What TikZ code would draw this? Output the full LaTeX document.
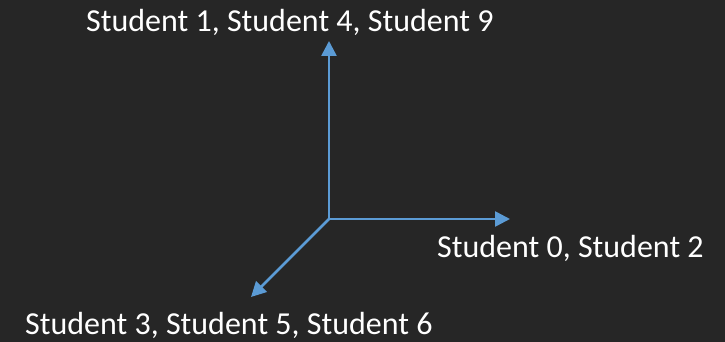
\documentclass[tikz,border=0pt]{standalone}
\usepackage{fontspec}
\setmainfont{Carlito}
\usetikzlibrary{arrows.meta}
\definecolor{bg}{HTML}{262626}
\definecolor{axisblue}{HTML}{5B9BD5}
\tikzset{
  axis/.style={draw=axisblue, line width=2.6pt, -{Triangle[length=15pt,width=15pt]}},
  lbl/.style={text=white, font=\fontsize{32}{36}\selectfont, inner sep=0pt, anchor=base west}
}
\begin{document}
\begin{tikzpicture}[x=1pt,y=1pt]
  \fill[bg] (0,0) rectangle (725,342);
  \useasboundingbox (0,0) rectangle (725,342);
  \coordinate (o) at (329,123);
  \coordinate (up) at (329,301);
  \coordinate (right) at (510,123);
  \coordinate (diag) at (251,45);
  \draw[axis] (o) -- (up);
  \draw[axis] (o) -- (right);
  \draw[axis] (o) -- (diag);
  \node[lbl] (t1) at (86,310) {Student 1, Student 4, Student 9};
  \node[lbl] (t2) at (437,84) {Student 0, Student 2};
  \node[lbl] (t3) at (25,7) {Student 3, Student 5, Student 6};
\end{tikzpicture}
\end{document}
